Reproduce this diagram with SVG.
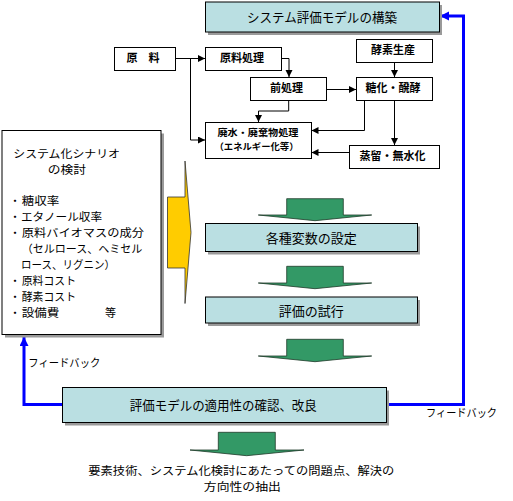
<svg xmlns="http://www.w3.org/2000/svg" width="513" height="501" viewBox="0 0 513 501">
<style>
text{font-family:"Noto Sans CJK JP","Noto Sans",sans-serif;fill:#000}
.box{fill:#fff;stroke:#000;stroke-width:1}
.tbox{fill:#BADFE2;stroke:#000;stroke-width:1}
.sh{fill:#9a9a9a}
.sm{font-size:11px;font-weight:bold;text-anchor:middle}
.md{font-size:13px;text-anchor:middle}
.lt{font-size:11px}
.fb{font-size:11px}
.con{fill:none;stroke:#000;stroke-width:1}
.blue{fill:none;stroke:#0000FF;stroke-width:3}
.garrow{fill:#339966;stroke:#1f3a2a;stroke-width:0.8}
</style>
<defs>
<marker id="ah" markerUnits="userSpaceOnUse" markerWidth="8" markerHeight="8" refX="7" refY="3.5" orient="auto">
<path d="M0,0 L7,3.5 L0,7 z" fill="#000"/>
</marker>
<marker id="bh" markerUnits="userSpaceOnUse" markerWidth="10" markerHeight="10" refX="9" refY="4.5" orient="auto">
<path d="M0,0 L9,4.5 L0,9 z" fill="#0000FF"/>
</marker>
</defs>

<g id="connectors">
<path class="con" d="M175,58.5 H205" marker-end="url(#ah)"/>
<path class="con" d="M190.5,58.5 V140 H205" marker-end="url(#ah)"/>
<path class="con" d="M281.7,58.5 H289 V77" marker-end="url(#ah)"/>
<path class="con" d="M326,89.5 H356" marker-end="url(#ah)"/>
<path class="con" d="M288.7,100 V111 H258.5 V122" marker-end="url(#ah)"/>
<path class="con" d="M394.5,62 V77" marker-end="url(#ah)"/>
<path class="con" d="M364.5,100 V130.5 H311.5" marker-end="url(#ah)"/>
<path class="con" d="M394.5,100 V145" marker-end="url(#ah)"/>
<path class="con" d="M349,152.5 H311.5" marker-end="url(#ah)"/>
<path class="blue" d="M62,404.5 H24 V337" marker-end="url(#bh)"/>
<path class="blue" d="M386,404.5 H463.5 V16 H440" marker-end="url(#bh)"/>
</g>

<g id="model-build">
<rect class="sh" x="208" y="5" width="234" height="30"/>
<rect class="tbox" x="205.5" y="2" width="234" height="30"/>
<text class="md" x="322" y="21.5" textLength="150" lengthAdjust="spacingAndGlyphs">システム評価モデルの構築</text>
</g>

<g id="genryo">
<rect class="box" x="114.5" y="47.5" width="61" height="23"/>
<text class="sm" x="143" y="61.5">原　料</text>
</g>
<g id="genryo-shori">
<rect class="box" x="205.5" y="47.5" width="76" height="23"/>
<text class="sm" x="242" y="61.5">原料処理</text>
</g>
<g id="koso-seisan">
<rect class="box" x="356.5" y="39.5" width="76" height="23"/>
<text class="sm" x="393" y="54">酵素生産</text>
</g>
<g id="mae-shori">
<rect class="box" x="250.5" y="77.5" width="76" height="23"/>
<text class="sm" x="286.5" y="91.5">前処理</text>
</g>
<g id="toka-hakko">
<rect class="box" x="356.5" y="77.5" width="76" height="23"/>
<text class="sm" x="393" y="91.5">糖化・醗酵</text>
</g>
<g id="haisui">
<rect class="box" x="205.5" y="122.5" width="106" height="36"/>
<text class="sm" x="258" y="136" style="font-size:9px" textLength="81" lengthAdjust="spacingAndGlyphs">廃水・廃棄物処理</text>
<text class="sm" x="256.5" y="149.5" style="font-size:9px" textLength="84" lengthAdjust="spacingAndGlyphs">（エネルギー化等）</text>
</g>
<g id="joryu">
<rect class="box" x="349.5" y="145.5" width="90" height="23"/>
<text class="sm" x="392.5" y="159.5">蒸留・無水化</text>
</g>

<g id="scenario">
<rect class="sh" x="5" y="133.5" width="159" height="204"/>
<rect class="box" x="2" y="130.5" width="159" height="204"/>
<text class="lt" x="13.3" y="157.5" textLength="106.7" lengthAdjust="spacingAndGlyphs">システム化シナリオ</text>
<text class="lt" x="47.7" y="173.5" textLength="38.3" lengthAdjust="spacingAndGlyphs">の検討</text>
<text class="lt" x="9.5" y="205">・<tspan x="21.7" textLength="37.6" lengthAdjust="spacingAndGlyphs">糖収率</tspan></text>
<text class="lt" x="9.5" y="221">・<tspan x="21" textLength="81" lengthAdjust="spacingAndGlyphs">エタノール収率</tspan></text>
<text class="lt" x="9.5" y="237">・<tspan x="21.7" textLength="122.3" lengthAdjust="spacingAndGlyphs">原料バイオマスの成分</tspan></text>
<text class="lt" x="21.7" y="253" textLength="120.7" lengthAdjust="spacingAndGlyphs">（セルロース、ヘミセル</text>
<text class="lt" x="21" y="269" textLength="94" lengthAdjust="spacingAndGlyphs">ロース、リグニン）</text>
<text class="lt" x="9.5" y="285">・<tspan x="21.7" textLength="54.3" lengthAdjust="spacingAndGlyphs">原料コスト</tspan></text>
<text class="lt" x="9.5" y="301">・<tspan x="21.7" textLength="54.3" lengthAdjust="spacingAndGlyphs">酵素コスト</tspan></text>
<text class="lt" x="9.5" y="317">・<tspan x="21.7" textLength="37.6" lengthAdjust="spacingAndGlyphs">設備費</tspan><tspan x="105" textLength="11" lengthAdjust="spacingAndGlyphs">等</tspan></text>
</g>

<g id="yellow-arrow">
<path d="M167.5,197 H185 V161 L191,232.5 L185,303.5 V268 H167.5 z" fill="#FFCC00" stroke="#333" stroke-width="0.8"/>
</g>

<g id="green-arrow-1">
<path class="garrow" d="M286.7,198.7 H343.3 V215 H371.7 L315,220.7 L258.3,215 H286.7 z"/>
</g>
<g id="settei">
<rect class="sh" x="208" y="226.5" width="212" height="28"/>
<rect class="tbox" x="205.5" y="223.5" width="212" height="28"/>
<text class="md" x="311.3" y="243">各種変数の設定</text>
</g>
<g id="green-arrow-2">
<path class="garrow" d="M286.7,266.3 H343.3 V283 H371.7 L315,288.7 L258.3,283 H286.7 z"/>
</g>
<g id="shikou">
<rect class="sh" x="208" y="300" width="212" height="26"/>
<rect class="tbox" x="205.5" y="297" width="212" height="26"/>
<text class="md" x="311.3" y="315.5">評価の試行</text>
</g>
<g id="green-arrow-3">
<path class="garrow" d="M286.7,339.3 H343.3 V356 H371.7 L315,361.7 L258.3,356 H286.7 z"/>
</g>
<g id="kakunin">
<rect class="sh" x="65" y="390.5" width="324" height="35"/>
<rect class="tbox" x="62.5" y="387.5" width="324" height="35"/>
<text class="md" x="223.3" y="409.5" textLength="187" lengthAdjust="spacingAndGlyphs">評価モデルの適用性の確認、改良</text>
</g>
<g id="green-arrow-4">
<path class="garrow" d="M218.3,432.3 H275.3 V450 H304 L246.7,455.7 L190,450 H218.3 z"/>
</g>

<g id="labels">
<text class="fb" x="28.3" y="367" textLength="72" lengthAdjust="spacingAndGlyphs">フィードバック</text>
<text class="fb" x="426" y="416.5" textLength="71" lengthAdjust="spacingAndGlyphs">フィードバック</text>
<text class="md" x="241.3" y="474.5" style="font-size:11px" textLength="306" lengthAdjust="spacingAndGlyphs">要素技術、システム化検討にあたっての問題点、解決の</text>
<text class="md" x="242.3" y="490.5" style="font-size:11px" textLength="77" lengthAdjust="spacingAndGlyphs">方向性の抽出</text>
</g>
</svg>
